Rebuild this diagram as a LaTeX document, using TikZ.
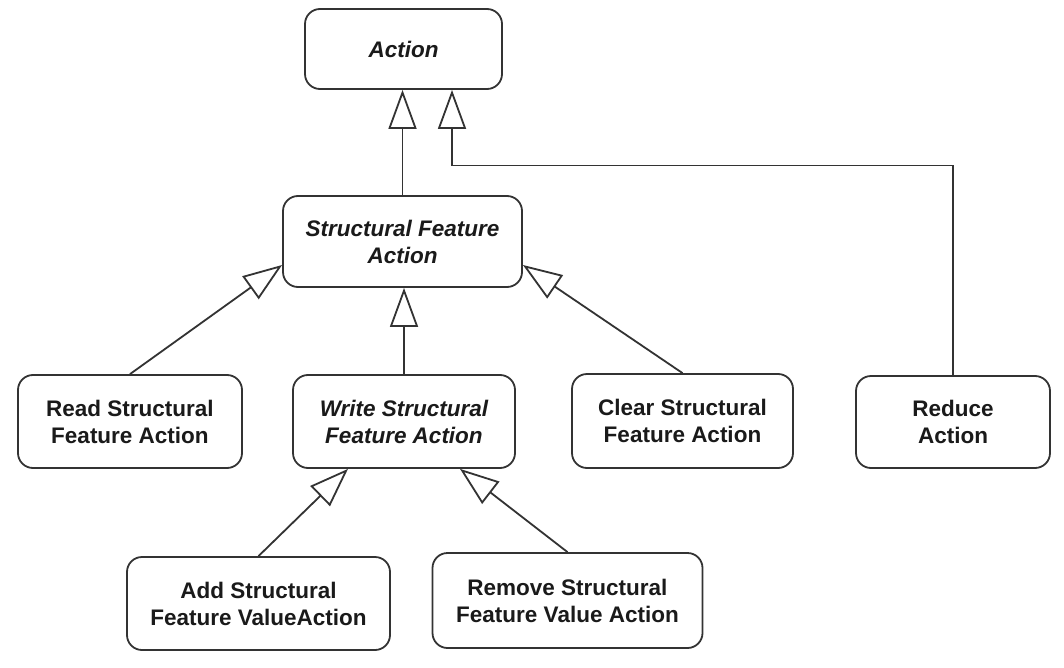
\documentclass[tikz,border=0pt]{standalone}
\usepackage{fontspec}
\setmainfont{Liberation Sans}
\usetikzlibrary{arrows.meta,calc}
\definecolor{linec}{HTML}{333333}
\definecolor{textc}{HTML}{1A1A1A}
\begin{document}
\begin{tikzpicture}[x=1pt,y=-1pt,
  cls/.style={draw=linec, line width=1.8pt, rounded corners=15pt, align=center,
    font=\fontsize{22.5}{27}\selectfont\bfseries, text=textc, inner sep=0pt},
  abs/.style={cls, font=\fontsize{22.5}{27}\selectfont\bfseries\itshape},
  gen/.style={draw=linec, line width=1.8pt,
    -{Triangle[open, length=39pt, width=28pt, fill=white]}},
]
\fill[white] (0,0) rectangle (1064,668);
\useasboundingbox (0,0) rectangle (1064,668);

\node[abs, minimum width=197pt, minimum height=80pt] (action) at (403.5,49) {Action};
\node[abs, minimum width=239pt, minimum height=91pt] (sfa) at (402.5,241.5) {Structural Feature\\Action};
\node[cls, minimum width=224pt, minimum height=93pt] (read) at (130,421.5) {Read Structural\\Feature Action};
\node[abs, minimum width=222pt, minimum height=93pt] (write) at (404,421.5) {Write Structural\\Feature Action};
\node[cls, minimum width=221pt, minimum height=94pt] (clear) at (682.5,421) {Clear Structural\\Feature Action};
\node[cls, minimum width=194pt, minimum height=92pt] (reduce) at (953,422) {Reduce\\Action};
\node[cls, minimum width=263pt, minimum height=93pt] (add) at (258.5,603.5) {Add Structural\\Feature ValueAction};
\node[cls, minimum width=270pt, minimum height=95pt] (remove) at (567.5,600.5) {Remove Structural\\Feature Value Action};

\coordinate (rbend) at (452,165.5);

\draw[gen] (sfa.north) -- (sfa.north |- action.south);
\draw[gen] (reduce.north) |- (rbend) -- (rbend |- action.south);
\draw[gen] (read.north) -- ([yshift=-23.5pt]sfa.west);
\draw[gen] (clear.north) -- ([yshift=-23.5pt]sfa.east);
\draw[gen] (write.north) -- (write.north |- sfa.south);
\draw[gen] (add.north) -- ([xshift=-56pt]write.south);
\draw[gen] (remove.north) -- ([xshift=56pt]write.south);
\end{tikzpicture}
\end{document}
